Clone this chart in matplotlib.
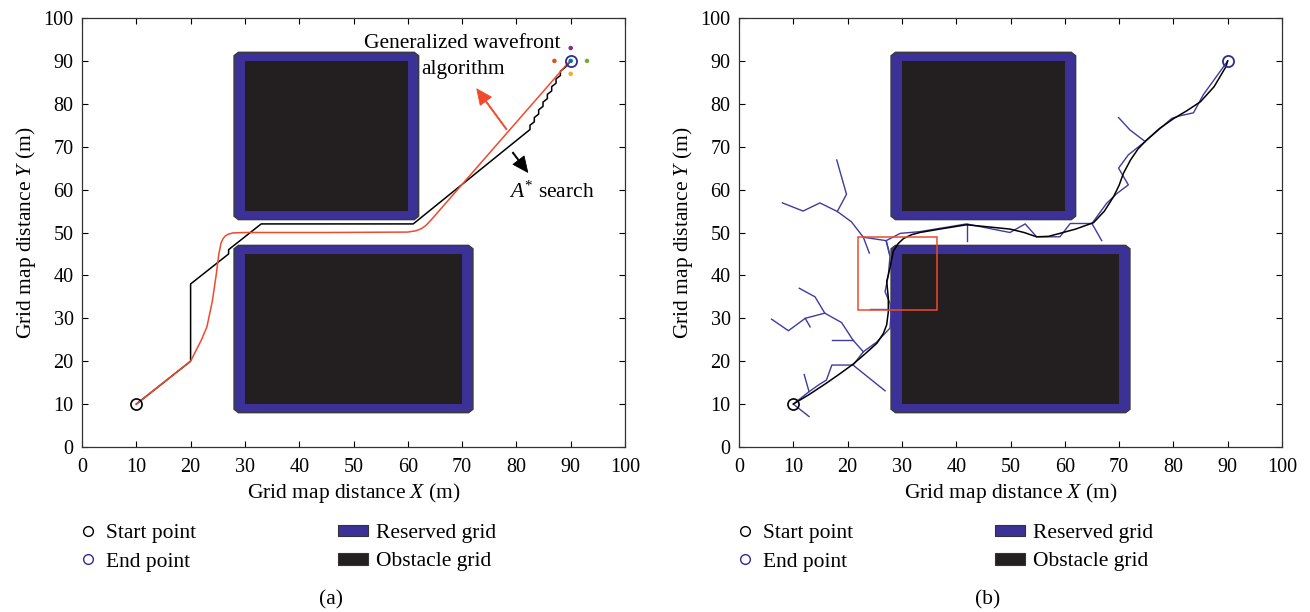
import matplotlib
matplotlib.use("Agg")
import matplotlib.pyplot as plt
from matplotlib.patches import Polygon, Rectangle, Patch
from matplotlib.lines import Line2D

# -------------------------------
# Data
# -------------------------------

start_pt = (10, 10)
end_pt = (90, 90)

# obstacles: (x0, x1, y0, y1); reserved grid is a 2 m band around each
obstacles = [(30, 60, 55, 90), (30, 70, 10, 45)]
reserve = 2.0

# (a) A* search path
astar_x = [10, 20, 20, 27, 27, 33, 61, 82.5, 82.5, 83.3, 83.3, 84.1, 84.1, 84.9, 84.9,
           85.7, 85.7, 86.5, 86.5, 87.3, 87.3, 88.1, 88.1, 89, 90]
astar_y = [10, 20, 38, 45, 46, 52, 52, 74, 75, 75.8, 76.8, 77.6, 78.6, 79.4, 80.4,
           81.2, 82.2, 83, 84, 84.8, 85.8, 86.6, 87.6, 88.5, 90]

# (a) generalized wavefront path
wave_x = [10, 20, 21, 22, 23, 24, 24.7, 25.2, 25.6, 25.9, 26.3, 26.9, 27.8, 30, 45, 60,
          61.5, 62.5, 63.3, 64.2, 89.5, 90]
wave_y = [10, 20, 22.5, 25, 28, 34, 40, 45, 47.5, 48.4, 49.1, 49.6, 49.9, 50, 50, 50.1,
          50.4, 50.9, 51.6, 52.8, 89.5, 90]

# (a) neighbour points around the goal
nb_x = [90, 87, 93, 90, 90]
nb_y = [93, 90, 90, 87, 90]
nb_c = ['#7e2f8e', '#d95319', '#77ac30', '#edb120', '#0072bd']

# (b) tree branches
tree = [
    [(12.9, 7.1), (10, 10), (12.9, 12.9), (14.8, 14.6), (16.1, 15.6), (17.1, 19.1),
     (21, 19.1), (22.9, 22.2), (25.4, 24.5), (27.8, 27.7), (28, 31), (27.8, 33.5),
     (26.9, 36.2), (27.5, 40), (27.8, 44.4), (27.1, 48.1), (29.7, 49.8), (33.3, 50.2),
     (41.9, 52), (49.9, 50), (52.7, 52), (54.8, 49), (59.1, 49), (61, 52.1), (65, 52.1),
     (67.7, 56.8), (69.6, 59.1), (71.7, 61.1), (69.9, 65), (71.7, 68.1), (74.8, 71.2),
     (79.7, 76.6), (81.2, 77.2), (83.7, 77.9), (85.5, 82.1), (90, 90)],
    [(12.9, 12.9), (12.0, 16.9)],
    [(21, 19.1), (26.9, 13.1)],
    [(22.9, 22.2), (21, 24.9), (18.9, 29), (15.8, 31.2), (14, 35), (11.1, 37)],
    [(17.1, 24.9), (21, 24.9)],
    [(15.8, 31.2), (12.2, 30), (9.1, 27.1), (6, 29.8)],
    [(12.2, 30), (13.1, 28)],
    [(24.1, 32.1), (27.8, 32.1)],
    [(27.1, 48.1), (22.9, 48.9), (20.7, 52.5), (18.1, 54.9), (14.9, 56.9), (11.8, 55),
     (8, 56.9)],
    [(18.1, 54.9), (19.8, 58.9), (18, 66.9)],
    [(22.9, 48.9), (24.0, 45.2)],
    [(27.1, 48.1), (27.7, 45.2)],
    [(41.9, 52), (41.9, 48)],
    [(65, 52.1), (66.8, 48.1)],
    [(74.8, 71.2), (72, 73.9), (69.9, 76.8)],
]

# (b) smoothed path
smooth_x = [10, 13, 16, 18.5, 21, 23.3, 25.4, 26.6, 27.2, 27.5, 27.5, 27.2, 27.8, 28.4,
            29.3, 30.3, 31.8, 33.3, 37, 41.9, 46, 49.9, 52.5, 54.8, 57, 59.1, 62, 65.3,
            67.3, 69, 70, 70.8, 72.1, 73.5, 75.1, 77.5, 80.1, 82.5, 85, 87.5, 89.7, 90]
smooth_y = [10, 12.3, 14.8, 17, 19.3, 21.8, 24.2, 26.5, 28.5, 31.5, 34.7, 38.6, 41.7,
            45.6, 47.4, 48.6, 49.5, 50, 50.8, 51.8, 51.3, 50.8, 50, 49, 49.1, 49.8, 50.8,
            52.3, 55, 58.4, 61, 63.8, 66.9, 69.5, 71.6, 74.3, 76.6, 78.4, 80.5, 84, 88.7,
            90]

# (b) highlighted box: x0, y0, width, height
box = (22, 32, 14.5, 17)

ticks = list(range(0, 101, 10))

# -------------------------------
# Style
# -------------------------------

serif = 'Liberation Serif'
plt.rcParams['font.family'] = serif
plt.rcParams['mathtext.fontset'] = 'custom'
plt.rcParams['mathtext.rm'] = serif
plt.rcParams['mathtext.it'] = serif + ':italic'

reserved_color = '#3b3196'
obstacle_color = '#231f20'
red = '#f04a2c'
navy = '#2e2d8f'
tree_color = '#3f3ba0'
fs_tick = 14.5
fs = 15.5


def draw_map(ax):
    for x0, x1, y0, y1 in obstacles:
        a, b, c, d = x0 - reserve, x1 + reserve, y0 - reserve, y1 + reserve
        k = 0.8
        octo = [(a + k, c), (b - k, c), (b, c + k), (b, d - k), (b - k, d), (a + k, d),
                (a, d - k), (a, c + k)]
        ax.add_patch(Polygon(octo, closed=True, facecolor=reserved_color,
                             edgecolor='#3a3a3a', lw=1.0, zorder=1))
        ax.add_patch(Rectangle((x0, y0), x1 - x0, y1 - y0, facecolor=obstacle_color,
                               edgecolor='none', zorder=2))


def style_axes(ax):
    ax.set_xlim(0, 100)
    ax.set_ylim(0, 100)
    ax.set_xticks(ticks)
    ax.set_yticks(ticks)
    ax.tick_params(axis='x', pad=8)
    ax.tick_params(axis='y', pad=6)
    ax.tick_params(direction='in', length=4, width=0.8, top=True, right=True,
                   labelsize=fs_tick)
    for s in ax.spines.values():
        s.set_linewidth(0.9)
        s.set_color('#333333')
    ax.set_xlabel('Grid map distance $X$ (m)', fontsize=fs, labelpad=3)
    ax.set_ylabel('Grid map distance $Y$ (m)', fontsize=fs, labelpad=4)


def add_legends(ax, x_left, x_right):
    h1 = [Line2D([], [], ls='none', marker='o', ms=7, mfc='none', mec='black', mew=1.0),
          Line2D([], [], ls='none', marker='o', ms=7, mfc='none', mec=navy, mew=1.0)]
    leg1 = ax.legend(h1, ['Start point', 'End point'], loc='upper left',
                     bbox_to_anchor=(x_left, 1 - 523 / 612), bbox_transform=fig.transFigure,
                     frameon=False, fontsize=fs, handlelength=0.6, handletextpad=0.5,
                     labelspacing=0.4, borderpad=0, borderaxespad=0)
    ax.add_artist(leg1)
    h2 = [Patch(facecolor=reserved_color, edgecolor='#333333', lw=0.8),
          Patch(facecolor=obstacle_color, edgecolor='#333333', lw=0.8)]
    ax.legend(h2, ['Reserved grid', 'Obstacle grid'], loc='upper left',
              bbox_to_anchor=(x_right, 1 - 524 / 612), bbox_transform=fig.transFigure,
              frameon=False, fontsize=fs, handlelength=1.4, handleheight=0.45,
              handletextpad=0.35, labelspacing=0.44, borderpad=0, borderaxespad=0)


fig = plt.figure(figsize=(13.1, 6.12), dpi=100)
ax1 = fig.add_axes([82 / 1310, 165 / 612, 543 / 1310, 429 / 612])
ax2 = fig.add_axes([739 / 1310, 165 / 612, 543 / 1310, 429 / 612])

# ---- panel (a) ----
draw_map(ax1)
ax1.plot(astar_x, astar_y, color='black', lw=1.1, zorder=4)
ax1.plot(wave_x, wave_y, color=red, lw=1.1, zorder=5)
ax1.scatter(nb_x, nb_y, c=nb_c, s=5, zorder=6)
ax1.plot(*start_pt, ls='none', marker='o', ms=8, mfc='none', mec='black', mew=1.2, zorder=7)
ax1.plot(*end_pt, ls='none', marker='o', ms=8, mfc='none', mec=navy, mew=1.3, zorder=7)

ax1.text(70, 94.0, 'Generalized wavefront', ha='center', va='center', fontsize=fs)
ax1.text(70.2, 88.0, 'algorithm', ha='center', va='center', fontsize=fs)
arrow_kw = 'simple,head_length=1.1,head_width=1.0,tail_width=0.08'
ax1.annotate('', xy=(72.4, 84), xytext=(78.5, 73.5),
             arrowprops=dict(arrowstyle=arrow_kw, color=red, lw=0.6), zorder=8)
ax1.annotate('', xy=(82.4, 63.5), xytext=(79, 69.2),
             arrowprops=dict(arrowstyle=arrow_kw, color='black', lw=0.6), zorder=8)
ax1.text(86.5, 59.3, '$A^{*}$ search', ha='center', va='center', fontsize=fs)
style_axes(ax1)

# ---- panel (b) ----
draw_map(ax2)
for branch in tree:
    bx, by = zip(*branch)
    ax2.plot(bx, by, color=tree_color, lw=1.0, zorder=4)
ax2.plot(smooth_x, smooth_y, color='black', lw=1.1, zorder=5)
ax2.add_patch(Rectangle(box[:2], box[2], box[3], fill=False, edgecolor=red, lw=1.1,
                        zorder=6))
ax2.plot(*start_pt, ls='none', marker='o', ms=8, mfc='none', mec='black', mew=1.2, zorder=7)
ax2.plot(*end_pt, ls='none', marker='o', ms=8, mfc='none', mec=navy, mew=1.3, zorder=7)
style_axes(ax2)

add_legends(ax1, 82 / 1310, 338 / 1310)
add_legends(ax2, 739 / 1310, 995 / 1310)

fig.text(331 / 1310, 12 / 612, '(a)', ha='center', va='center', fontsize=fs)
fig.text(988 / 1310, 12 / 612, '(b)', ha='center', va='center', fontsize=fs)

plt.savefig('out.png', dpi=100)
